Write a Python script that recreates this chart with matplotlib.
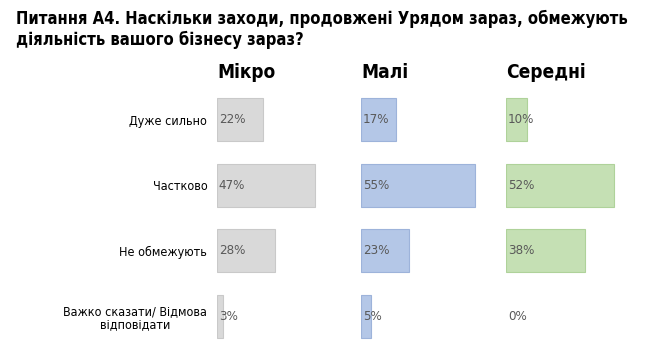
import matplotlib
matplotlib.use('Agg')
import matplotlib.pyplot as plt

categories = ['Дуже сильно', 'Частково', 'Не обмежують', 'Важко сказати/ Відмова\nвідповідати']
groups = ['Мікро', 'Малі', 'Середні']
micro = [22, 47, 28, 3]
small = [17, 55, 23, 5]
medium = [10, 52, 38, 0]
values = [micro, small, medium]

colors = ['#D9D9D9', '#B4C7E7', '#C5E0B4']
edges = ['#C9C9C9', '#9DB3DA', '#AFD29A']

W, H = 645, 358
fig = plt.figure(figsize=(W / 100, H / 100), dpi=100, facecolor='white')

fig.text(16 / W, 1 - 10 / H,
         'Питання А4. Наскільки заходи, продовжені Урядом зараз, обмежують\n'
         'діяльність вашого бізнесу зараз?',
         ha='left', va='top', fontsize=11.9, fontweight='bold',
         fontstretch='condensed', linespacing=1.2, color='black')

lefts = [217, 361, 506]
for i, (name, vals) in enumerate(zip(groups, values)):
    ax = fig.add_axes([lefts[i] / W, 9 / H, 145.6 / W, 262 / H])
    ypos = list(range(len(categories)))
    lw = [0.8 if v > 0 else 0 for v in vals]
    ax.barh(ypos, vals, height=0.66, color=colors[i], edgecolor=edges[i], linewidth=lw)
    ax.set_xlim(0, 70)
    ax.set_ylim(len(categories) - 0.5, -0.5)
    for y, v in zip(ypos, vals):
        ax.text(0.9, y, f'{v}%', ha='left', va='center', fontsize=9.5,
                fontstretch='condensed', color='#595959')
    for s in ax.spines.values():
        s.set_visible(False)
    ax.set_xticks([])
    ax.tick_params(axis='y', length=0, pad=7)
    ax.set_yticks(ypos)
    if i == 0:
        ax.set_yticklabels(categories, fontsize=9, color='black', ha='right',
                           fontstretch='condensed', multialignment='center',
                           linespacing=1.1)
    else:
        ax.set_yticklabels([])
    fig.text(lefts[i] / W, 1 - 72 / H, name, ha='left', va='center',
             fontsize=13.7, fontweight='bold', fontstretch='condensed')

fig.savefig('out.png', dpi=100, facecolor='white')
